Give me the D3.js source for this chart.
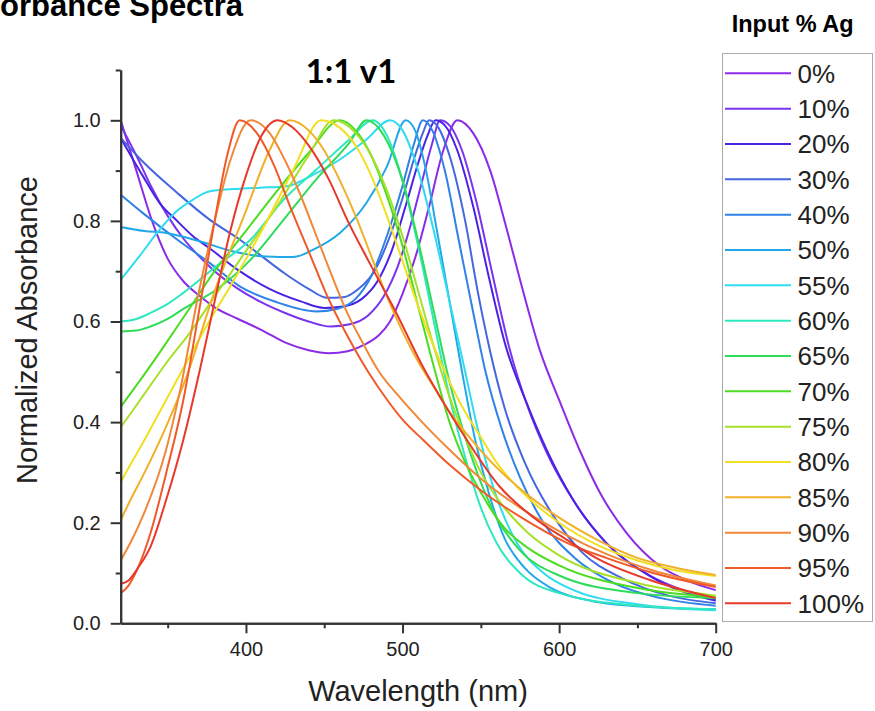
<!DOCTYPE html>
<html>
<head>
<meta charset="utf-8">
<script src="https://cdn.jsdelivr.net/npm/d3@7"></script>
<style>
  html, body { margin: 0; padding: 0; background: #fff; }
  svg { display: block; font-family: "Liberation Sans", Arial, sans-serif; }
</style>
</head>
<body>
<svg id="chart" width="875" height="711"></svg>
<script>
// legend labels and line colours
var labels = ['0%', '10%', '20%', '30%', '40%', '50%', '55%', '60%', '65%', '70%', '75%', '80%', '85%', '90%', '95%', '100%'];
var colors = ['#8c2be6', '#7a33f0', '#4a22e6', '#4466e0', '#2f82e8', '#22a8e8', '#2edcf0', '#2ee8c0',
              '#2edc5a', '#4cdc22', '#a6e028', '#f0e020', '#f0b028', '#f08838', '#f05a2a', '#e8382a'];

// spectra: [wavelength nm, normalized absorbance]
var ag0 = [[320,1.0],[330,0.90],[340,0.80],[350,0.725],[360,0.68],[370,0.652],[380,0.628],[395,0.605],[410,0.583],[426,0.557],[440,0.543],[453,0.537],[465,0.541],[475,0.553],[485,0.573],[492,0.60],[500,0.655],[509,0.736],[517,0.829],[526,0.94],[535,1.0],[545,0.975],[556,0.90],[566,0.79],[577,0.66],[588,0.54],[600,0.444],[613,0.345],[626,0.26],[643,0.18],[664,0.115],[682,0.085],[700,0.066]];
var ag10 = [[320,0.99],[330,0.93],[340,0.865],[350,0.81],[360,0.765],[370,0.73],[380,0.70],[395,0.665],[410,0.638],[425,0.617],[440,0.60],[454,0.59],[467,0.595],[478,0.612],[488,0.65],[497,0.71],[505,0.79],[513,0.885],[519,0.955],[524,1.0],[530,0.99],[538,0.94],[547,0.84],[557,0.70],[568,0.55],[580,0.43],[592,0.34],[609,0.245],[630,0.16],[658,0.095],[680,0.065],[700,0.047]];
var ag20 = [[320,0.965],[334,0.89],[345,0.835],[356,0.80],[366,0.77],[377,0.745],[396,0.70],[415,0.665],[435,0.64],[450,0.627],[462,0.63],[474,0.645],[484,0.68],[493,0.74],[502,0.83],[510,0.915],[516,0.97],[521,1.0],[527,0.99],[535,0.94],[545,0.83],[555,0.69],[566,0.55],[579,0.44],[592,0.345],[609,0.245],[630,0.16],[658,0.094],[680,0.062],[700,0.045]];
var ag30 = [[320,0.965],[335,0.915],[356,0.856],[377,0.802],[396,0.763],[410,0.73],[425,0.695],[440,0.665],[452,0.647],[462,0.648],[472,0.665],[482,0.70],[492,0.77],[500,0.845],[508,0.93],[513,0.975],[517,1.0],[523,0.985],[530,0.93],[540,0.80],[548,0.66],[556,0.54],[565,0.43],[578,0.32],[595,0.22],[615,0.14],[640,0.09],[670,0.055],[700,0.04]];
var ag40 = [[320,0.852],[334,0.816],[356,0.763],[377,0.716],[396,0.67],[420,0.638],[445,0.62],[458,0.625],[470,0.645],[480,0.69],[490,0.77],[500,0.87],[507,0.95],[513,1.0],[519,0.98],[527,0.90],[536,0.76],[545,0.62],[553,0.50],[563,0.39],[575,0.29],[590,0.20],[610,0.13],[635,0.08],[665,0.05],[700,0.035]];
var ag50 = [[320,0.788],[335,0.78],[349,0.776],[371,0.759],[392,0.739],[413,0.729],[430,0.728],[443,0.743],[460,0.776],[477,0.836],[490,0.908],[502,1.0],[508,0.98],[515,0.90],[522,0.78],[530,0.64],[538,0.50],[546,0.37],[555,0.26],[565,0.17],[578,0.11],[595,0.07],[620,0.045],[660,0.032],[700,0.028]];
var ag55 = [[320,0.683],[332,0.73],[345,0.783],[356,0.82],[366,0.842],[377,0.859],[396,0.864],[409,0.866],[426,0.869],[443,0.892],[460,0.922],[477,0.962],[492,1.0],[500,0.98],[510,0.90],[520,0.78],[530,0.64],[540,0.50],[547,0.40],[558,0.27],[573,0.16],[590,0.10],[610,0.065],[650,0.038],[700,0.026]];
var ag60 = [[320,0.60],[330,0.605],[339,0.617],[350,0.635],[360,0.657],[381,0.71],[403,0.763],[424,0.842],[445,0.902],[466,0.962],[481,1.0],[490,0.97],[500,0.88],[510,0.75],[520,0.60],[530,0.45],[540,0.33],[550,0.23],[560,0.16],[575,0.10],[600,0.06],[650,0.035],[700,0.028]];
var ag65 = [[320,0.58],[330,0.582],[339,0.59],[350,0.605],[360,0.625],[381,0.663],[403,0.723],[424,0.802],[445,0.883],[466,0.955],[477,1.0],[488,0.97],[500,0.88],[510,0.76],[520,0.62],[530,0.48],[540,0.37],[550,0.28],[560,0.21],[575,0.145],[600,0.095],[650,0.06],[700,0.05]];
var ag70 = [[320,0.43],[327,0.46],[334,0.49],[349,0.557],[362,0.617],[380,0.70],[400,0.78],[420,0.86],[440,0.935],[460,1.0],[470,0.98],[480,0.93],[490,0.85],[500,0.75],[510,0.63],[520,0.51],[530,0.40],[540,0.32],[550,0.26],[565,0.19],[580,0.15],[600,0.115],[650,0.07],[700,0.052]];
var ag75 = [[320,0.39],[327,0.42],[334,0.451],[349,0.517],[364,0.577],[380,0.65],[400,0.74],[420,0.83],[440,0.93],[456,1.0],[470,0.975],[480,0.93],[490,0.86],[500,0.77],[510,0.66],[520,0.55],[530,0.45],[540,0.37],[550,0.30],[565,0.23],[580,0.18],[600,0.135],[650,0.08],[700,0.055]];
var ag80 = [[320,0.28],[327,0.32],[334,0.358],[349,0.444],[364,0.53],[377,0.603],[390,0.67],[410,0.78],[430,0.90],[448,1.0],[460,0.985],[470,0.95],[480,0.89],[490,0.81],[500,0.72],[510,0.63],[520,0.55],[530,0.48],[540,0.42],[550,0.37],[560,0.32],[580,0.25],[600,0.20],[625,0.155],[650,0.125],[675,0.105],[700,0.094]];
var ag85 = [[320,0.205],[327,0.25],[334,0.292],[349,0.391],[362,0.49],[380,0.66],[400,0.82],[415,0.94],[428,1.0],[440,0.98],[450,0.94],[460,0.88],[470,0.81],[480,0.73],[490,0.65],[500,0.58],[510,0.52],[520,0.47],[530,0.42],[540,0.38],[560,0.31],[580,0.255],[600,0.21],[625,0.165],[650,0.13],[675,0.11],[700,0.096]];
var ag90 = [[320,0.125],[327,0.165],[334,0.212],[349,0.345],[358,0.464],[370,0.66],[380,0.80],[390,0.92],[403,1.0],[415,0.975],[425,0.92],[435,0.85],[445,0.77],[455,0.69],[465,0.615],[475,0.555],[485,0.50],[498,0.45],[511,0.405],[530,0.345],[551,0.285],[575,0.23],[605,0.175],[630,0.138],[660,0.105],[700,0.075]];
var ag95 = [[320,0.06],[325,0.075],[331,0.11],[339,0.179],[349,0.298],[360,0.444],[370,0.62],[380,0.80],[388,0.93],[396,1.0],[408,0.97],[418,0.91],[428,0.83],[440,0.74],[452,0.65],[465,0.57],[478,0.50],[490,0.445],[500,0.405],[513,0.365],[530,0.315],[551,0.262],[575,0.212],[605,0.16],[630,0.13],[660,0.10],[700,0.072]];
var ag100 = [[320,0.078],[325,0.085],[331,0.11],[339,0.152],[349,0.245],[360,0.365],[371,0.51],[380,0.64],[390,0.78],[400,0.89],[410,0.97],[420,1.0],[430,0.985],[440,0.95],[453,0.882],[465,0.80],[479,0.716],[496,0.617],[513,0.51],[524,0.45],[541,0.365],[562,0.272],[583,0.212],[605,0.166],[626,0.126],[658,0.086],[700,0.05]];

var spectra = [ag0, ag10, ag20, ag30, ag40, ag50, ag55, ag60, ag65, ag70, ag75, ag80, ag85, ag90, ag95, ag100];

var xMajor = [400, 500, 600, 700];
var xMinor = [350, 450, 550, 650];
var yMajor = [0, 0.2, 0.4, 0.6, 0.8, 1.0];
var yMinor = [0.1, 0.3, 0.5, 0.7, 0.9, 1.1];

var svg = d3.select('#chart');

var x = d3.scaleLinear().domain([320, 700]).range([120.7, 715.7]);
var y = d3.scaleLinear().domain([0, 1.1]).range([623.3, 70]);

var line = d3.line()
	.x((d) => x(d[0]))
	.y((d) => y(d[1]))
	.curve(d3.curveMonotoneX);

// curves
svg.append('g')
	.selectAll('path')
	.data(spectra)
	.enter()
	.append('path')
	.attr('d', line)
	.attr('fill', 'none')
	.attr('stroke', (d, i) => colors[i])
	.attr('stroke-width', 2);

// axes
function styleAxis(g) {
	g.selectAll('.domain').attr('stroke', '#333').attr('stroke-width', 2);
	g.selectAll('.tick line').attr('stroke', '#333').attr('stroke-width', 2);
	g.selectAll('text').attr('fill', '#222').style('font-size', '20px')
		.style('font-family', '"Liberation Sans", Arial, sans-serif');
}

svg.append('g')
	.attr('transform', 'translate(0,' + y(0) + ')')
	.call(d3.axisBottom(x).tickValues(xMinor).tickSize(5).tickSizeOuter(0).tickFormat(''))
	.call(styleAxis);
svg.append('g')
	.attr('transform', 'translate(0,' + y(0) + ')')
	.call(d3.axisBottom(x).tickValues(xMajor).tickSize(10).tickPadding(9).tickSizeOuter(0).tickFormat(d3.format('d')))
	.call(styleAxis);

svg.append('g')
	.attr('transform', 'translate(' + x(320) + ',0)')
	.call(d3.axisLeft(y).tickValues(yMinor).tickSize(5).tickSizeOuter(0).tickFormat(''))
	.call(styleAxis);
svg.append('g')
	.attr('transform', 'translate(' + x(320) + ',0)')
	.call(d3.axisLeft(y).tickValues(yMajor).tickSize(10).tickPadding(10).tickSizeOuter(0).tickFormat(d3.format('.1f')))
	.call(styleAxis);

// titles (the page title is cut off at the left edge, as in the source figure)
svg.append('text')
	.attr('x', 243).attr('y', 16)
	.attr('text-anchor', 'end')
	.style('font-weight', 'bold').style('font-size', '31px')
	.text('Absorbance Spectra');

svg.append('text')
	.attr('x', 351).attr('y', 83)
	.attr('text-anchor', 'middle')
	.style('font-family', 'Lato, "Open Sans", sans-serif')
	.style('font-weight', 'bold').style('font-size', '33px')
	.text('1:1 v1');

svg.append('text')
	.attr('x', 418).attr('y', 701)
	.attr('text-anchor', 'middle')
	.attr('fill', '#222')
	.style('font-size', '29px')
	.text('Wavelength (nm)');

svg.append('text')
	.attr('transform', 'translate(37,330) rotate(-90)')
	.attr('text-anchor', 'middle')
	.attr('fill', '#222')
	.style('font-size', '29px')
	.text('Normalized Absorbance');

// legend
svg.append('text')
	.attr('x', 731.7).attr('y', 32)
	.style('font-weight', 'bold').style('font-size', '23.5px')
	.text('Input % Ag');

svg.append('rect')
	.attr('x', 722.5).attr('y', 53.5)
	.attr('width', 150).attr('height', 568)
	.attr('fill', 'none')
	.attr('stroke', '#aaa')
	.attr('stroke-width', 1);

var ly = d3.scaleLinear().domain([0, labels.length - 1]).range([73.3, 603.3]);

var item = svg.append('g')
	.selectAll('g')
	.data(labels)
	.enter()
	.append('g')
	.attr('transform', (d, i) => 'translate(0,' + ly(i) + ')');

item.append('line')
	.attr('x1', 725).attr('x2', 791)
	.attr('stroke', (d, i) => colors[i])
	.attr('stroke-width', 2);

item.append('text')
	.attr('x', 797.5)
	.attr('dy', '0.36em')
	.attr('fill', '#222')
	.style('font-size', '26px')
	.text((d) => d);
</script>
</body>
</html>
